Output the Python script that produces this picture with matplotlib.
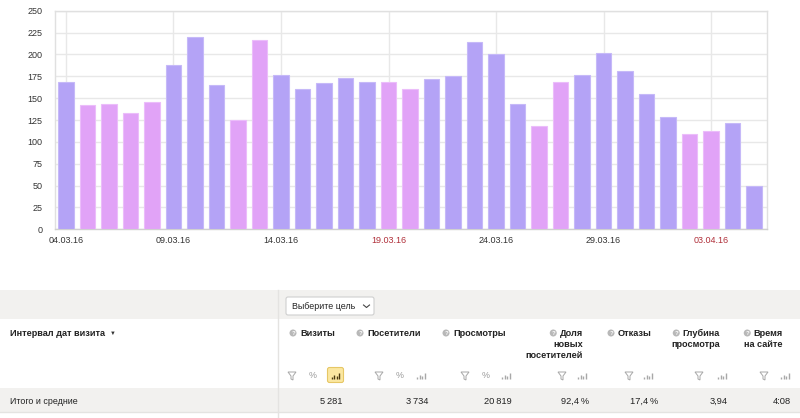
import matplotlib
matplotlib.use("Agg")
import matplotlib.pyplot as plt
from matplotlib.patches import Rectangle, Circle, Polygon, FancyBboxPatch

plt.rcParams['font.family'] = ['Liberation Sans', 'DejaVu Sans']

# ---- data ----
dates = ["04.03.16", "05.03.16", "06.03.16", "07.03.16", "08.03.16", "09.03.16", "10.03.16",
         "11.03.16", "12.03.16", "13.03.16", "14.03.16", "15.03.16", "16.03.16", "17.03.16",
         "18.03.16", "19.03.16", "20.03.16", "21.03.16", "22.03.16", "23.03.16", "24.03.16",
         "25.03.16", "26.03.16", "27.03.16", "28.03.16", "29.03.16", "30.03.16", "31.03.16",
         "01.04.16", "02.04.16", "03.04.16", "04.04.16", "05.04.16"]
visits = [169, 142, 143, 133, 146, 188, 220, 165, 125, 216, 176, 160, 167, 173, 169, 168, 160,
          172, 175, 214, 201, 143, 118, 168, 177, 202, 181, 155, 129, 109, 112, 121, 50]
holiday = [0, 1, 1, 1, 1, 0, 0, 0, 1, 1, 0, 0, 0, 0, 0, 1, 1,
           0, 0, 0, 0, 0, 1, 1, 0, 0, 0, 0, 0, 1, 1, 0, 0]
tick_idx = [0, 5, 10, 15, 20, 25, 30]
tick_red = [False, False, False, True, False, False, True]
yticks = [0, 25, 50, 75, 100, 125, 150, 175, 200, 225, 250]

headers = ["Визиты", "Посетители", "Просмотры", "Доля\nновых\nпосетителей", "Отказы",
           "Глубина\nпросмотра", "Время\nна сайте"]
totals = ["5\u2009281", "3\u2009734", "20\u2009819", "92,4\u2009%", "17,4\u2009%", "3,94", "4:08"]

W, H = 800, 418
fig = plt.figure(figsize=(W / 100, H / 100), dpi=100)

# ---- overlay (table) in pixel coordinates ----
ov = fig.add_axes([0, 0, 1, 1], zorder=0)
ov.set_xlim(0, W)
ov.set_ylim(H, 0)
ov.axis('off')

GRAY_BG = '#f2f1ef'
LINE = '#e4e3e1'
FS = 6.4
FSB = 6.6
ov.add_patch(Rectangle((0, 289.5), W, 29, facecolor=GRAY_BG, edgecolor='none'))
ov.add_patch(Rectangle((0, 387.5), W, 24.5, facecolor=GRAY_BG, edgecolor='none'))
ov.plot([0, W], [412, 412], color=LINE, lw=1)
ov.plot([278, 278], [289.5, H], color=LINE, lw=1)

fig.canvas.draw()
renderer = fig.canvas.get_renderer()

# button
ov.add_patch(FancyBboxPatch((286, 297), 88, 18, boxstyle="round,pad=0,rounding_size=2",
                            facecolor='white', edgecolor='#cfcfcf', lw=0.8))
ov.text(292, 306.5, "Выберите цель", fontsize=FS, color='#222', va='center', ha='left')
ov.plot([363.5, 366.5, 369.5], [305, 307.5, 305], color='#444', lw=0.8)

# first column
t0 = ov.text(10, 333, "Интервал дат визита", fontsize=FSB, fontweight='bold', color='#222',
             va='center')
w0 = t0.get_window_extent(renderer=renderer).width
ov.text(10 + w0 + 5, 333, "▼", fontsize=4.2, color='#333', va='center', ha='left')
ov.text(10, 401.5, "Итого и средние", fontsize=FS, color='#222', va='center')


def qicon(x, y):
    ov.add_patch(Circle((x, y), 3.5, facecolor='#b8b8b8', edgecolor='none'))
    ov.text(x, y + 0.3, "?", fontsize=4.3, color='white', ha='center', va='center', fontweight='bold')


def funnel(x, y, c='#a8a8a8'):
    pts = [(x - 4, y - 4), (x + 4, y - 4), (x + 1, y), (x + 1, y + 4), (x - 1, y + 3), (x - 1, y)]
    ov.add_patch(Polygon(pts, closed=True, facecolor='none', edgecolor=c, lw=0.7))


def baricon(x, y, c='#a8a8a8'):
    hs = [2.5, 4.5, 3.5, 6]
    for k, h in enumerate(hs):
        xx = x - 3.6 + k * 2.4
        ov.plot([xx, xx], [y + 3, y + 3 - h], color=c, lw=1.0, solid_capstyle='butt')


def pct(x, y):
    ov.text(x, y, "%", fontsize=FS, color='#9a9a9a', ha='center', va='center')


# headers: (anchor x, align)
hdr = [(300, 'left'), (367, 'left'), (453, 'left'),
       (583, 'right'), (618, 'left'), (720, 'right'), (783, 'right')]
HY = 333
for (tx, al), label in zip(hdr, headers):
    lines = label.split("\n")
    for j, line in enumerate(lines):
        t = ov.text(tx, HY + j * 11.5, line, fontsize=FSB, fontweight='bold', color='#222',
                    ha=al, va='center')
        if j == 0:
            if al == 'left':
                qicon(tx - 7, HY)
            else:
                bb = t.get_window_extent(renderer=renderer)
                qicon(tx - bb.width - 6.5, HY)

# icons row
ICY = 376
funnel(292, ICY); pct(313, ICY)
ov.add_patch(FancyBboxPatch((327.5, 367.5), 16, 15, boxstyle="round,pad=0,rounding_size=2",
                            facecolor='#fbe7a1', edgecolor='#e6c766', lw=0.8))
baricon(335.5, ICY, c='#4a3a10')
funnel(379, ICY); pct(400, ICY); baricon(421, ICY)
funnel(465, ICY); pct(486, ICY); baricon(506, ICY)
funnel(562, ICY); baricon(582, ICY)
funnel(629, ICY); baricon(648, ICY)
funnel(699, ICY); baricon(722, ICY)
funnel(764, ICY); baricon(785, ICY)

# totals
tot_x = [342, 428, 512, 589, 658, 728, 791]
for x, t in zip(tot_x, totals):
    ov.text(x, 401.5, t, fontsize=FS + 0.3, color='#222', ha='right', va='center')

# ---- chart ----
ax = fig.add_axes([55 / W, 1 - 229.3 / H, 712 / W, 218.6 / H], zorder=1)
x = list(range(len(visits)))
colors = ['#e1a3f7' if h else '#b4a3f6' for h in holiday]
edges = ['#ebbdfa' if h else '#c6b9f8' for h in holiday]
ax.bar(x, visits, width=0.71, color=colors, edgecolor=edges, linewidth=0.8, zorder=3)

ax.set_xlim(-0.51, 32.6)
ax.set_ylim(0, 250)
ax.set_yticks(yticks)
ax.set_yticklabels([str(v) for v in yticks], fontsize=6.5, color='#333')
ax.set_xticks(tick_idx)
ax.set_xticklabels([dates[i] for i in tick_idx], fontsize=6.5)
for lbl, red in zip(ax.get_xticklabels(), tick_red):
    lbl.set_color('#b0303a' if red else '#333')
ax.tick_params(axis='both', length=0)
ax.tick_params(axis='y', pad=9)
ax.tick_params(axis='x', pad=5)
ax.grid(True, color='#e8e8e8', lw=1, zorder=0)
ax.set_axisbelow(True)
for s in ax.spines.values():
    s.set_color('#e0e0e0')
    s.set_linewidth(1)
ax.spines['bottom'].set_color('#d0d0d0')

fig.savefig("out.png", dpi=100)
